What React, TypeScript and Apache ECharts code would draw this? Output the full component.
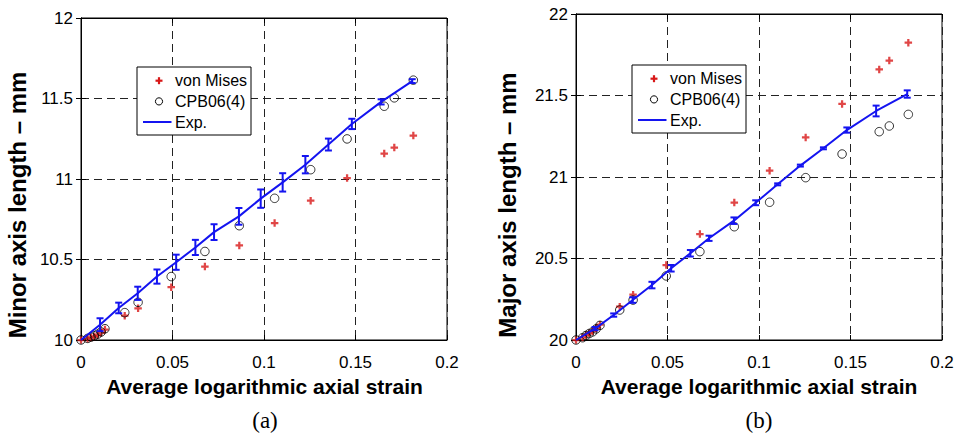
import React, { useEffect, useRef } from "react";
import * as echarts from "echarts";

// ---------- data ----------
const xTicks = ["0", "0.05", "0.1", "0.15", "0.2"];
const yTicksA = ["10", "10.5", "11", "11.5", "12"];
const yTicksB = ["20", "20.5", "21", "21.5", "22"];

// model predictions (shared strain values)
const modelStrain = [0, 0.0036, 0.0055, 0.0073, 0.0091, 0.011, 0.0131, 0.0239, 0.0312, 0.0493, 0.0677, 0.0865, 0.1058, 0.1255, 0.1454, 0.1657, 0.1712, 0.1816];
const minorVonMises = [10.0, 10.008, 10.015, 10.022, 10.032, 10.045, 10.065, 10.151, 10.197, 10.328, 10.456, 10.587, 10.726, 10.865, 11.006, 11.158, 11.195, 11.27];
const minorCPB = [10.0, 10.01, 10.018, 10.026, 10.036, 10.05, 10.07, 10.17, 10.234, 10.394, 10.55, 10.71, 10.88, 11.058, 11.249, 11.452, 11.504, 11.614];
const majorVonMises = [20.0, 20.016, 20.03, 20.042, 20.054, 20.072, 20.094, 20.2045, 20.278, 20.46, 20.65, 20.843, 21.039, 21.243, 21.448, 21.66, 21.714, 21.824];
const majorCPB = [20.0, 20.014, 20.028, 20.04, 20.05, 20.068, 20.09, 20.184, 20.245, 20.393, 20.542, 20.695, 20.845, 20.996, 21.141, 21.278, 21.313, 21.384];

// experiment
const expStrain = [0, 0.0104, 0.0206, 0.031, 0.0415, 0.052, 0.0625, 0.0727, 0.0863, 0.0982, 0.1102, 0.1226, 0.1352, 0.148, 0.164, 0.181];
const minorExp = [10.0, 10.095, 10.199, 10.29, 10.394, 10.483, 10.575, 10.67, 10.768, 10.878, 10.979, 11.089, 11.214, 11.342, 11.479, 11.608];
const minorErr = [0, 0.04, 0.033, 0.041, 0.044, 0.047, 0.047, 0.049, 0.052, 0.057, 0.057, 0.054, 0.037, 0.032, 0.016, 0.012];
const majorExp = [20.0, 20.07, 20.153, 20.245, 20.337, 20.44, 20.532, 20.624, 20.732, 20.842, 20.955, 21.07, 21.176, 21.288, 21.405, 21.509];
const majorErr = [0, 0.01, 0.01, 0.017, 0.02, 0.02, 0.02, 0.016, 0.02, 0.015, 0.006, 0.006, 0.006, 0.016, 0.033, 0.0225];

const legendNames = ["von Mises", "CPB06(4)", "Exp."];
const xTitle = "Average logarithmic axial strain";
const yTitleA = "Minor axis length \u2013 mm";
const yTitleB = "Major axis length \u2013 mm";
const panelLabels = ["(a)", "(b)"];

// ---------- styles ----------
const SANS = "'Liberation Sans', Arial, Helvetica, sans-serif";
const SERIF = "'Liberation Serif', 'Times New Roman', serif";
const RED = "#d81818";
const BLUE = "#1414f0";
const PLUS = "path://M2.8,0H5.2V2.8H8V5.2H5.2V8H2.8V5.2H0V2.8H2.8Z";

const pair = (xs: number[], ys: number[]) => xs.map((x, i) => [x, ys[i]]);
const triple = (xs: number[], ys: number[], es: number[]) => xs.map((x, i) => [x, ys[i], es[i]]);

const fmt = (v: number) => String(Number(v.toFixed(3)));

function makeAxes(gridIndex: number, kind: "x" | "y", min: number, max: number, interval: number, labels: string[]) {
  const main: any = {
    type: "value",
    gridIndex,
    min,
    max,
    interval,
    position: kind === "x" ? "bottom" : "left",
    axisLine: { show: true, lineStyle: { color: "#000", width: 1 } },
    axisTick: { show: true, inside: true, length: 5, lineStyle: { color: "#000" } },
    axisLabel: {
      show: true,
      color: "#000",
      fontFamily: SANS,
      fontSize: 17,
      margin: kind === "x" ? 14 : 8,
      formatter: (v: number) => {
        const idx = Math.round((v - min) / interval);
        return labels[idx] ?? fmt(v);
      },
    },
    splitLine: { show: true, lineStyle: { color: "#222", width: 1, type: [8, 5] } },
  };
  const mirror: any = {
    type: "value",
    gridIndex,
    min,
    max,
    interval,
    position: kind === "x" ? "top" : "right",
    axisLine: { show: true, lineStyle: { color: "#000", width: 1 } },
    axisTick: { show: true, inside: true, length: 5, lineStyle: { color: "#000" } },
    axisLabel: { show: false },
    splitLine: { show: false },
  };
  return [main, mirror];
}

function errorSeries(xAxisIndex: number, yAxisIndex: number, data: number[][]) {
  return {
    type: "custom",
    coordinateSystem: "cartesian2d",
    xAxisIndex,
    yAxisIndex,
    encode: { x: 0, y: 1 },
    z: 4,
    data,
    renderItem: (_p: any, api: any) => {
      const x = api.value(0);
      const y = api.value(1);
      const e = api.value(2);
      if (!e) return { type: "group", children: [] };
      const top = api.coord([x, y + e]);
      const bot = api.coord([x, y - e]);
      const hw = 3.5;
      const st = { stroke: BLUE, lineWidth: 2 };
      return {
        type: "group",
        children: [
          { type: "line", shape: { x1: top[0], y1: top[1], x2: bot[0], y2: bot[1] }, style: st },
          { type: "line", shape: { x1: top[0] - hw, y1: top[1], x2: top[0] + hw, y2: top[1] }, style: st },
          { type: "line", shape: { x1: bot[0] - hw, y1: bot[1], x2: bot[0] + hw, y2: bot[1] }, style: st },
        ],
      };
    },
  };
}

function legendGraphic(x0: number, y0: number) {
  const w = 114;
  const h = 68;
  const mx = x0 + 22;
  const tx = x0 + 38;
  const rows = [y0 + 13.7, y0 + 34.4, y0 + 55];
  return [
    { type: "rect", z: 100, shape: { x: x0, y: y0, width: w, height: h }, style: { fill: "#fff", stroke: "#000", lineWidth: 1 } },
    { type: "rect", z: 101, shape: { x: mx - 3.5, y: rows[0] - 1.1, width: 7, height: 2.2 }, style: { fill: RED } },
    { type: "rect", z: 101, shape: { x: mx - 1.1, y: rows[0] - 3.5, width: 2.2, height: 7 }, style: { fill: RED } },
    { type: "circle", z: 101, shape: { cx: mx, cy: rows[1], r: 3.6 }, style: { fill: "none", stroke: "#000", lineWidth: 1 } },
    { type: "line", z: 101, shape: { x1: x0 + 6, y1: rows[2], x2: x0 + 34.5, y2: rows[2] }, style: { stroke: BLUE, lineWidth: 2 } },
    ...legendNames.map((t, i) => ({
      type: "text",
      z: 101,
      x: tx,
      y: rows[i],
      style: { text: t, font: `16px ${SANS}`, fill: "#000", textAlign: "left", textVerticalAlign: "middle" },
    })),
  ];
}

export default function App() {
  const ref = useRef<HTMLDivElement>(null);

  useEffect(() => {
    if (!ref.current) return;
    const chart = echarts.init(ref.current, undefined, { renderer: "svg" });

    const [xa0, xa1] = makeAxes(0, "x", 0, 0.2, 0.05, xTicks);
    const [xb0, xb1] = makeAxes(1, "x", 0, 0.2, 0.05, xTicks);
    const [ya0, ya1] = makeAxes(0, "y", 10, 12, 0.5, yTicksA);
    const [yb0, yb1] = makeAxes(1, "y", 20, 22, 0.5, yTicksB);

    const option: any = {
      animation: false,
      backgroundColor: "#fff",
      grid: [
        { left: 81, top: 18, width: 366, height: 322, show: true, borderColor: "#000", borderWidth: 1, backgroundColor: "transparent" },
        { left: 576, top: 14, width: 366, height: 326, show: true, borderColor: "#000", borderWidth: 1, backgroundColor: "transparent" },
      ],
      xAxis: [xa0, xa1, xb0, xb1],
      yAxis: [ya0, ya1, yb0, yb1],
      series: [
        { name: "von Mises", type: "scatter", xAxisIndex: 0, yAxisIndex: 0, symbol: PLUS, symbolSize: 7.5, itemStyle: { color: RED }, z: 3, data: pair(modelStrain, minorVonMises) },
        { name: "CPB06(4)", type: "scatter", xAxisIndex: 0, yAxisIndex: 0, symbol: "circle", symbolSize: 8.5, itemStyle: { color: "transparent", borderColor: "#000", borderWidth: 1 }, z: 3, data: pair(modelStrain, minorCPB) },
        { name: "Exp.", type: "line", xAxisIndex: 0, yAxisIndex: 0, symbol: "none", lineStyle: { color: BLUE, width: 2 }, z: 4, data: pair(expStrain, minorExp) },
        errorSeries(0, 0, triple(expStrain, minorExp, minorErr)),
        { name: "von Mises", type: "scatter", xAxisIndex: 2, yAxisIndex: 2, symbol: PLUS, symbolSize: 7.5, itemStyle: { color: RED }, z: 3, data: pair(modelStrain, majorVonMises) },
        { name: "CPB06(4)", type: "scatter", xAxisIndex: 2, yAxisIndex: 2, symbol: "circle", symbolSize: 8.5, itemStyle: { color: "transparent", borderColor: "#000", borderWidth: 1 }, z: 3, data: pair(modelStrain, majorCPB) },
        { name: "Exp.", type: "line", xAxisIndex: 2, yAxisIndex: 2, symbol: "none", lineStyle: { color: BLUE, width: 2 }, z: 4, data: pair(expStrain, majorExp) },
        errorSeries(2, 2, triple(expStrain, majorExp, majorErr)),
      ],
      graphic: [
        ...legendGraphic(137, 67),
        ...legendGraphic(632, 65),
        { type: "text", x: 264.5, y: 386, style: { text: xTitle, font: `bold 21px ${SANS}`, fill: "#000", textAlign: "center", textVerticalAlign: "middle" } },
        { type: "text", x: 759, y: 386, style: { text: xTitle, font: `bold 21px ${SANS}`, fill: "#000", textAlign: "center", textVerticalAlign: "middle" } },
        { type: "text", x: 17, y: 205, rotation: Math.PI / 2, style: { text: yTitleA, font: `bold 24px ${SANS}`, fill: "#000", textAlign: "center", textVerticalAlign: "middle" } },
        { type: "text", x: 507.5, y: 205, rotation: Math.PI / 2, style: { text: yTitleB, font: `bold 24px ${SANS}`, fill: "#000", textAlign: "center", textVerticalAlign: "middle" } },
        { type: "text", x: 265, y: 420, style: { text: panelLabels[0], font: `23px ${SERIF}`, fill: "#000", textAlign: "center", textVerticalAlign: "middle" } },
        { type: "text", x: 759, y: 420, style: { text: panelLabels[1], font: `23px ${SERIF}`, fill: "#000", textAlign: "center", textVerticalAlign: "middle" } },
      ],
    };

    chart.setOption(option);
    return () => chart.dispose();
  }, []);

  return <div ref={ref} style={{ position: "absolute", left: 0, top: 0, width: 959, height: 435 }} />;
}
